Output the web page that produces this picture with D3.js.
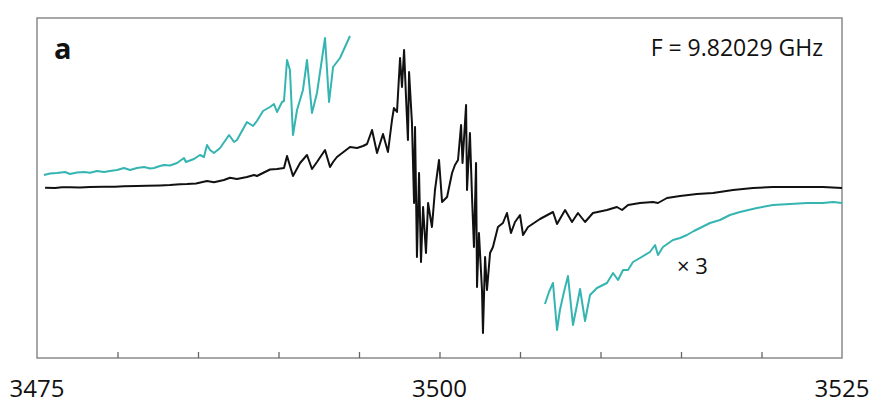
<!DOCTYPE html>
<html><head><meta charset="utf-8">
<script src="https://cdn.jsdelivr.net/npm/d3@7"></script>
<style>html,body{margin:0;padding:0;background:#fff;}svg{display:block;}</style>
</head><body>
<svg id="chart" width="870" height="416"></svg>
<script>
// Magnetic field (G) and EPR signal (arb. units)
const blackField = [3475.50,3476.12,3476.55,3477.05,3477.67,3478.29,3479.16,3479.84,3480.40,3481.21,3481.83,3482.64,3483.26,3483.88,3484.32,3484.88,3485.56,3485.99,3486.61,3486.99,3487.42,3488.04,3488.48,3488.66,3489.47,3489.91,3490.34,3490.53,3490.90,3491.34,3491.77,3492.08,3492.39,3492.89,3493.20,3493.39,3493.63,3494.44,3494.88,3495.25,3495.50,3495.81,3496.12,3496.49,3496.80,3497.05,3497.17,3497.36,3497.55,3497.67,3497.80,3497.92,3498.04,3498.11,3498.29,3498.42,3498.48,3498.60,3498.73,3498.85,3498.98,3499.16,3499.29,3499.53,3499.72,3499.97,3500.16,3500.47,3500.78,3500.96,3501.15,3501.34,3501.43,3501.65,3501.71,3501.89,3502.02,3502.14,3502.27,3502.33,3502.45,3502.64,3502.70,3502.83,3502.95,3503.14,3503.32,3503.63,3503.94,3504.19,3504.44,3504.69,3505.00,3505.19,3505.50,3506.24,3507.05,3507.30,3507.80,3508.23,3508.60,3509.04,3509.53,3510.40,3511.02,3511.34,3511.71,3512.45,3513.26,3513.57,3514.13,3514.94,3515.99,3516.99,3518.23,3519.47,3520.71,3522.39,3523.82,3525.00];
const blackSignal = [0.3,0.0,0.8,0.7,0.4,1.0,1.3,1.2,1.8,2.0,2.3,2.6,3.0,3.8,4.0,4.5,7.0,5.7,8.0,10.3,9.0,11.0,13.0,12.0,18.5,19.0,20.0,32.0,12.0,25.0,33.0,19.0,26.0,38.0,21.0,26.0,31.0,41.0,40.0,42.0,44.0,58.0,35.0,54.0,36.0,68.0,80.0,76.0,130.0,101.0,138.0,91.0,48.0,116.0,65.0,-15.0,61.0,-69.0,15.0,-74.0,-19.0,-65.0,-15.0,-39.0,-2.0,28.0,-14.0,-9.0,15.0,23.0,28.0,63.0,25.0,83.0,-2.0,55.0,-9.0,-59.0,25.0,-99.0,-45.0,-102.0,-145.0,-69.0,-102.0,-65.0,-59.0,-39.0,-35.0,-25.0,-45.0,-34.0,-27.0,-47.0,-39.0,-31.0,-24.0,-36.0,-22.0,-34.0,-25.0,-34.0,-25.0,-22.0,-19.0,-22.0,-17.0,-15.0,-14.0,-15.0,-10.0,-8.0,-6.0,-5.0,-2.0,0.0,1.0,1.0,1.0,0.0];

// ×3 expanded wings
const leftWingField = [3475.43,3475.81,3476.24,3476.74,3477.05,3477.48,3477.92,3478.29,3478.73,3479.16,3479.53,3479.97,3480.40,3480.78,3481.21,3481.65,3482.02,3482.27,3482.64,3482.89,3483.26,3483.70,3484.13,3484.25,3484.75,3485.12,3485.37,3485.56,3485.75,3485.99,3486.37,3486.93,3487.24,3487.42,3488.04,3488.42,3488.66,3489.04,3489.47,3489.72,3489.91,3490.22,3490.34,3490.53,3490.71,3490.90,3491.15,3491.52,3491.77,3492.08,3492.39,3492.89,3493.14,3493.39,3493.82,3494.44];
const leftWingSignal = [13,14.5,15,16,14,15.5,16,15.2,17,16,17,18,20,18,20,21,19.5,20,22,23,22.5,25,30,26,29,33,31,43,38,35,40,53,46,48,66,62,67,77,81,84,76,86,87,128,118,53,78,98,128,75,95,150,86,121,130,152];
const rightWingField = [3506.55,3506.80,3507.05,3507.30,3507.48,3507.73,3507.98,3508.29,3508.54,3508.73,3509.04,3509.35,3509.78,3510.40,3510.78,3511.09,3511.40,3511.71,3512.02,3512.45,3513.07,3513.39,3513.57,3513.88,3514.50,3514.94,3515.37,3515.80,3516.18,3516.80,3517.42,3518.04,3518.66,3519.72,3520.71,3521.77,3522.83,3523.82,3524.44,3525.00];
const rightWingSignal = [-116,-104,-95,-142,-122,-104,-88,-137,-117,-101,-133,-107,-100,-95,-85,-92,-82,-82,-74,-70,-64,-57,-67,-59,-52,-50,-47,-43,-40,-35,-32,-27,-24,-20,-17,-16,-15,-15,-14,-15];

const minorTicks = [3480,3485,3490,3495,3500,3505,3510,3515,3520];
const tickLabels = [3475,3500,3525];
const panelLabel = "a";
const freqLabel = "F = 9.82029 GHz";
const scaleLabel = "× 3";

const svg = d3.select("#chart");
const L = 37, R = 842, T = 18, B = 358;
const x = d3.scaleLinear().domain([3475,3525]).range([L,R]);
const y = d3.scaleLinear().domain([-170,170]).range([B,T]);
const frameColor = "#8a8a8a";

// frame
svg.append("rect").attr("x",L).attr("y",T).attr("width",R-L).attr("height",B-T)
  .attr("fill","none").attr("stroke",frameColor).attr("stroke-width",1.5);

// ticks (inward)
const axis = d3.axisBottom(x).tickValues(minorTicks).tickSize(-6).tickFormat("");
const ag = svg.append("g").attr("transform",`translate(0,${B})`).call(axis);
ag.select(".domain").remove();
ag.selectAll("line").attr("stroke","#666").attr("stroke-width",1.3);

// tick labels
svg.append("g").selectAll("text").data(tickLabels).join("text")
  .attr("x",d=>x(d)).attr("y",397).attr("text-anchor","middle")
  .attr("font-family","'Open Sans', sans-serif").attr("font-size",24).attr("fill","#111")
  .text(d=>d);

const line = d3.line().x(d=>x(d[0])).y(d=>y(d[1]));
const zip = (a,b)=>a.map((v,i)=>[v,b[i]]);

svg.append("path").datum(zip(leftWingField,leftWingSignal)).attr("d",line)
  .attr("fill","none").attr("stroke","#35b5b2").attr("stroke-width",2).attr("stroke-linejoin","round");
svg.append("path").datum(zip(rightWingField,rightWingSignal)).attr("d",line)
  .attr("fill","none").attr("stroke","#35b5b2").attr("stroke-width",2).attr("stroke-linejoin","round");
svg.append("path").datum(zip(blackField,blackSignal)).attr("d",line)
  .attr("fill","none").attr("stroke","#111").attr("stroke-width",2).attr("stroke-linejoin","round");

// texts
svg.append("text").attr("x",54).attr("y",59).attr("font-family","'Liberation Sans Narrow','Open Sans',sans-serif")
  .attr("font-weight","bold").attr("font-size",29).attr("fill","#111").text(panelLabel);
svg.append("text").attr("x",823).attr("y",56).attr("text-anchor","end")
  .attr("font-family","'Open Sans', sans-serif").attr("font-size",23).attr("fill","#111").text(freqLabel);
svg.append("text").attr("x",677).attr("y",274)
  .attr("font-family","'Open Sans', sans-serif").attr("font-size",22).attr("fill","#111").text(scaleLabel);
</script>
</body></html>
